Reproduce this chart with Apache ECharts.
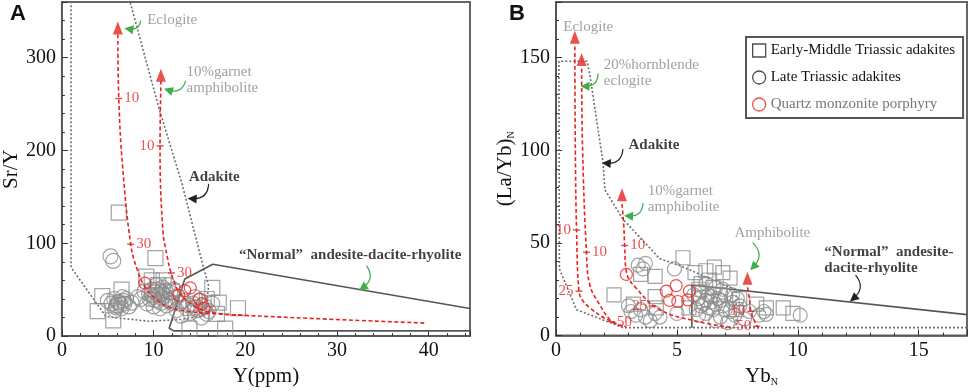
<!DOCTYPE html>
<html>
<head>
<meta charset="utf-8">
<script src="https://cdn.jsdelivr.net/npm/echarts@6/dist/echarts.min.js"></script>
<style>
    html, body { margin: 0; padding: 0; background: #fff; }
    #chart { width: 969px; height: 392px; }
</style>
</head>
<body>
<div id="chart"></div>
<script>
    // series names
    const names = ['Early-Middle Triassic adakites', 'Late Triassic adakites', 'Quartz monzonite porphyry']

    // ---- panel A : Sr/Y vs Y(ppm) ----
    const squaresA = [[6.2,133],[10.2,84],[9.2,64],[9.8,60],[11.1,60],[10.5,55],[6.5,50],[4.4,43],[3.9,27],[5.6,17],
        [12.0,48],[16.4,52],[17.1,36],[19.2,30],[16.9,24],[15.8,40],[14.5,30],[13.9,8],[17.8,8]]
    const circlesA = [[5.3,86],[5.6,81],
        [5.0,38],[5.4,35],[5.7,40],[6.0,33],[6.2,37],[6.5,30],[6.8,35],[7.0,40],[7.3,32],[5.8,28],[6.6,42],[7.6,36],[8.3,42],
        [6.1,36],[6.4,34],[6.7,38],[5.9,31],
        [8.6,40],[9.5,45],[9.8,50],[10.0,42],[10.3,55],[10.5,38],[10.8,48],[11.0,52],[11.2,44],[11.5,40],[11.8,47],[12.0,36],
        [9.3,35],[10.0,32],[10.7,30],[11.4,33],[12.4,42],[12.8,35],[9.0,48],[10.2,47],[11.6,55],[12.2,50],
        [9.8,44],[10.4,50],[10.6,44],[10.9,41],[11.3,49],[10.1,39],[10.8,36],[11.7,38],[9.6,40],[11.0,46],
        [13.2,38],[13.6,30],[14.0,25],[14.3,35],[14.8,28],[15.2,20],[15.6,32],[16.0,27],[16.4,35],[13.0,22],[14.5,42],
        [15.0,38],[15.8,24],[12.5,28],[13.8,33],[14.6,31]]
    const redA = [[9.05,57],[12.75,44],[13.4,49],[14.0,52],[15.0,40],[15.3,35],[15.5,30]]

    const adakiteFieldA = [[1.0,365],[1.0,74],[4.8,21],[9.5,16],[13.0,18],[15.6,22],[16.0,54],[15.3,79],[13.1,164],[10.6,245],[7.3,365]]
    const normalFieldA = [[44.5,29.7],[16.45,77.4],[13.4,61.5],[11.7,8.5],[12.2,5.6],[44.5,5.6]]
    const curveA1 = [[6.1,325],[6.2,256],[6.6,185],[7.5,99],[8.2,72],[9.0,54],[10.0,42],[11.5,32],[13.5,27],[17,24],[25,20],[39.6,14]]
    const curveA2 = [[10.8,275],[10.7,205],[11.0,115],[11.5,85],[11.9,68.5],[12.8,47],[14.6,31.4],[17.1,24.4],[20,22.5]]
    const arrowTipsA = [[6.1,332],[10.8,281]]
    const curveTicksA = [[6.2,256,'10'],[10.7,205,'10'],[7.5,99,'30'],[11.95,68,'30']]
    const tickSideA = ['right','left','right','right']
    const greenArrowsA = [[8.6,340,7.3,331],[13.5,275,11.6,265],[33.2,76,32.8,52]]
    const blackArrowsA = [[16,164,14.2,148]]
    const greyNotesA = [['Eclogite',9.3,341],['10%garnet\namphibolite',13.6,276]]
    const boldNotesA = [['Adakite',13.85,171],['“Normal”  andesite-dacite-rhyolite',19.3,87]]

    // ---- panel B : (La/Yb)N vs YbN ----
    const squaresB = [[2.4,22],[3.5,33],[4.1,32],[5.25,42],[4.1,21],[4.15,15],[5.5,15],[5.75,34],[6.2,35],[6.55,37],[6.9,34],
        [6.35,30],[7.2,31],[6.0,28],[7.45,14],[8.3,17],[8.7,15],[9.4,15],[9.8,12],[6.8,22],[5.9,25],[7.6,20],[3.2,17],[6.5,26]]
    const circlesB = [[3.4,38],[3.6,36],[3.7,39],[4.9,36],[3.1,13],[3.3,11],[3.5,14],[3.7,10],[3.9,8],[4.1,12],[3.0,16],[4.3,10],
        [5.0,12],[5.8,14],[5.9,20],[6.0,24],[6.1,17],[6.2,12],[6.3,22],[6.4,18],[6.5,14],[6.6,26],[6.7,20],[6.8,10],[6.9,16],
        [7.0,22],[7.1,7],[7.2,13],[7.3,18],[7.4,11],[7.6,16],[7.8,9],[8.0,13],[8.4,11],[8.7,11.5],[8.6,13],[10.1,11],[6.2,28],
        [5.7,22],[6.9,25],[7.5,20],[6.0,16],[6.3,15],[6.6,17],[6.8,19],[7.0,14],[6.4,21],[6.2,19],[7.3,22],[5.9,11],[6.6,8]]
    const redB = [[2.91,33],[4.56,24],[4.97,27],[5.52,24],[4.7,19],[5.04,18.4],[5.45,19.3]]

    const adakiteFieldB = [[17,4.3],[2.77,4.3],[0.85,14],[0.14,36],[0.12,148],[1.29,148],[1.4,140.7],[1.95,92.9],[2.02,78.7],
        [2.77,62.8],[4.29,41.5],[5.1,37.9],[7.45,24.6],[7.45,4.3]]
    const normalFieldB = [[5.62,4.3],[5.62,27.3],[17,11.3]]
    const curveB1 = [[0.78,156],[0.8,100],[0.85,57],[0.95,24],[1.1,19],[1.4,15],[2.0,9.5],[2.8,5]]
    const curveB2 = [[1.06,144],[1.1,100],[1.26,45],[1.4,27.3],[1.81,16.6],[2.36,7],[2.9,5]]
    const curveB3 = [[2.73,71],[2.8,60],[2.84,48.6],[2.91,34.4],[3.32,25.5],[4.29,14],[5.8,7.8],[7.3,4.3]]
    const curveB4 = [[7.92,26],[8.0,20],[8.06,13.1],[8.2,8],[8.4,3.4]]
    const arrowTipsB = [[0.78,161],[1.06,149],[2.73,76],[7.92,31]]
    const curveTicksB = [[0.85,57,'10'],[0.95,24,'25'],[1.26,45,'10'],[2.3,7.5,'50'],[2.84,48.6,'10'],[4.0,16,'25'],[8.06,13.1,'10'],[8.3,5,'50']]
    const tickSideB = ['left','left','right','right','right','left','left','left']
    const greenArrowsB = [[1.74,141.4,1.2,134.5],[3.6,71.5,3.0,64.5],[8.13,50.2,8.16,37]]
    const blackArrowsB = [[2.77,100.7,2.08,93],[12.39,32.6,12.3,20]]
    const greyNotesB = [['Eclogite',0.3,166.5],['20%hornblende\neclogite',1.98,141.6],['10%garnet\namphibolite',3.8,73.8],['Amphibolite',7.38,55.3]]
    const boldNotesB = [['Adakite',3.0,103],['“Normal”  andesite-\ndacite-rhyolite',11.1,40.6]]

    const serif = 'Liberation Serif'
    const red = '#e8231f'
    const grey = '#8a8a8a'
    const green = '#3fae49'

    function xAx(grid, max, interval, name) {
        return {
            type: 'value', gridIndex: grid, min: 0, max: max, interval: interval,
            name: name, nameLocation: 'middle', nameGap: 24,
            nameTextStyle: { fontFamily: serif, fontSize: 21, color: '#111',
                rich: { m: { fontFamily: serif, fontSize: 21, color: '#111' },
                        s: { fontFamily: serif, fontSize: 10, color: '#111', padding: [12, 0, 0, 0] } } },
            axisLine: { show: true, onZero: false, lineStyle: { color: '#555', width: 1.5 } },
            axisTick: { show: true, inside: true, length: 6, lineStyle: { color: '#333' } },
            minorTick: { show: true, splitNumber: 5, length: 3, lineStyle: { color: '#333' } },
            axisLabel: { fontFamily: serif, fontSize: 20, color: '#111', margin: 5, showMaxLabel: false },
            splitLine: { show: false }
        }
    }
    function yAx(grid, max, interval, name, gap) {
        const ax = xAx(grid, max, interval, name)
        ax.nameGap = gap
        ax.axisLabel.margin = 6
        return ax
    }

    function line(data, grid, style, smooth, z) {
        return { type: 'line', xAxisIndex: grid, yAxisIndex: grid, data: data, symbol: 'none',
            smooth: smooth, lineStyle: style, silent: true, z: z, clip: true }
    }
    function pts(name, data, grid, symbol, size, color, z) {
        return { type: 'scatter', name: name, xAxisIndex: grid, yAxisIndex: grid, data: data,
            symbol: symbol, symbolSize: size, silent: true, z: z,
            itemStyle: { color: 'rgba(0,0,0,0)', borderColor: color, borderWidth: 1.2 } }
    }
    function tips(data, grid) {
        return { type: 'scatter', xAxisIndex: grid, yAxisIndex: grid, data: data, symbol: 'triangle',
            symbolSize: [10, 13], itemStyle: { color: red }, silent: true, z: 6 }
    }
    function curveTicks(data, sides, grid) {
        return { type: 'scatter', xAxisIndex: grid, yAxisIndex: grid, symbol: 'rect', symbolSize: [7, 1.5],
            itemStyle: { color: red }, silent: true, z: 6,
            data: data.map((d, i) => ({ name: d[2], value: [d[0], d[1]],
                label: { show: true, position: sides[i], distance: 2, formatter: '{b}',
                    fontFamily: serif, fontSize: 15, color: red } })) }
    }
    function arrows(data, grid, color) {
        return { type: 'lines', coordinateSystem: 'cartesian2d', xAxisIndex: grid, yAxisIndex: grid,
            symbol: ['none', 'triangle'], symbolSize: 9, silent: true, z: 7,
            lineStyle: { color: color, width: 1.2, curveness: 0.5, opacity: 1 },
            data: data.map(d => ({ coords: [[d[0], d[1]], [d[2], d[3]]] })) }
    }
    function notes(data, grid, color, weight) {
        return { type: 'scatter', xAxisIndex: grid, yAxisIndex: grid, symbolSize: 0, silent: true, z: 8,
            data: data.map(d => ({ name: d[0], value: [d[1], d[2]] })),
            label: { show: true, position: 'right', distance: 0, formatter: '{b}', fontFamily: serif,
                fontSize: 15, lineHeight: 16, color: color, fontWeight: weight, align: 'left' } }
    }

    const dotted = { color: '#6e6e6e', width: 1.6, type: [2, 2] }
    const solid = { color: '#555', width: 1.6 }
    const dashed = { color: red, width: 1.6, type: [4, 2.5] }

    const mChart = echarts.init(document.getElementById('chart'))
    const option = {
        animation: false,
        title: [
            { text: 'A', left: 10, top: 3, padding: 0, textStyle: { fontFamily: 'Liberation Sans', fontWeight: 'bold', fontSize: 22, color: '#111' } },
            { text: 'B', left: 509, top: 3, padding: 0, textStyle: { fontFamily: 'Liberation Sans', fontWeight: 'bold', fontSize: 22, color: '#111' } }
        ],
        legend: {
            orient: 'vertical', left: 746, top: 37, padding: [6, 8, 6, 6],
            borderColor: '#555', borderWidth: 2, itemWidth: 13, itemHeight: 13, itemGap: 12,
            textStyle: { fontFamily: serif, fontSize: 15, color: '#111' },
            data: [
                { name: names[0], icon: 'rect', itemStyle: { color: 'rgba(0,0,0,0)', borderColor: '#222', borderWidth: 1.3 } },
                { name: names[1], icon: 'circle', itemStyle: { color: 'rgba(0,0,0,0)', borderColor: '#222', borderWidth: 1.3 } },
                { name: names[2], icon: 'circle', itemStyle: { color: 'rgba(0,0,0,0)', borderColor: red, borderWidth: 1.3 },
                    textStyle: { color: '#777' } }
            ]
        },
        grid: [
            { left: 59, right: 499, top: 2, bottom: 51, show: true, borderColor: '#666', borderWidth: 2 },
            { left: 556, right: 2, top: 2, bottom: 51, show: true, borderColor: '#666', borderWidth: 2 }
        ],
        xAxis: [
            xAx(0, 44.5, 10, 'Y(ppm)'),
            xAx(1, 17, 5, '{m|Yb}{s|N}')
        ],
        yAxis: [
            yAx(0, 360, 100, 'Sr/Y', 34),
            yAx(1, 180, 50, '{m|(La/Yb)}{s|N}', 36)
        ],
        series: [
            // panel A
            line(adakiteFieldA, 0, dotted, false, 2),
            line(normalFieldA, 0, solid, false, 2),
            pts(names[0], squaresA, 0, 'rect', 15, '#8c8c8c', 3),
            pts(names[1], circlesA, 0, 'circle', 15, '#8c8c8c', 3),
            line(curveA1, 0, dashed, 0.4, 5),
            line(curveA2, 0, dashed, 0.4, 5),
            pts(names[2], redA, 0, 'circle', 12, red, 6),
            tips(arrowTipsA, 0),
            curveTicks(curveTicksA, tickSideA, 0),
            arrows(greenArrowsA, 0, green),
            arrows(blackArrowsA, 0, '#222'),
            notes(greyNotesA, 0, grey, 'normal'),
            notes(boldNotesA, 0, '#111', 'bold'),
            // panel B
            line(adakiteFieldB, 1, dotted, false, 2),
            line(normalFieldB, 1, solid, false, 2),
            pts(names[0], squaresB, 1, 'rect', 14, '#8c8c8c', 3),
            pts(names[1], circlesB, 1, 'circle', 14, '#8c8c8c', 3),
            line(curveB1, 1, dashed, 0.4, 5),
            line(curveB2, 1, dashed, 0.4, 5),
            line(curveB3, 1, dashed, 0.4, 5),
            line(curveB4, 1, dashed, 0.4, 5),
            pts(names[2], redB, 1, 'circle', 12, red, 6),
            tips(arrowTipsB, 1),
            curveTicks(curveTicksB, tickSideB, 1),
            arrows(greenArrowsB, 1, green),
            arrows(blackArrowsB, 1, '#222'),
            notes(greyNotesB, 1, grey, 'normal'),
            notes(boldNotesB, 1, '#111', 'bold')
        ]
    }
    mChart.setOption(option)
    window.addEventListener('resize', function () {
        mChart.resize()
    })
</script>
</body>
</html>
